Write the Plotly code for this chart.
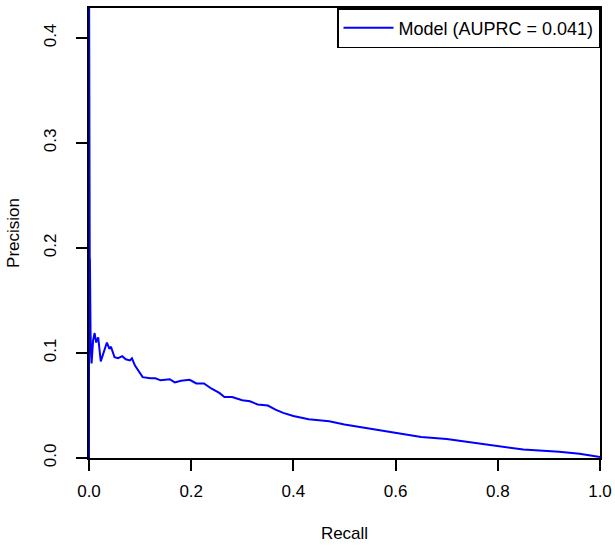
import plotly.graph_objects as go

recall = [0.0, 0.0003, 0.0008, 0.0012, 0.0015, 0.0018, 0.0022, 0.003, 0.004, 0.005,
          0.008, 0.011, 0.014, 0.018, 0.023, 0.028, 0.035, 0.040, 0.043, 0.050,
          0.057, 0.065, 0.072, 0.080, 0.084, 0.090, 0.100, 0.105, 0.120, 0.130,
          0.140, 0.158, 0.168, 0.180, 0.197, 0.210, 0.225, 0.240, 0.255, 0.265,
          0.280, 0.300, 0.315, 0.330, 0.350, 0.365, 0.380, 0.400, 0.430, 0.470,
          0.500, 0.550, 0.600, 0.650, 0.700, 0.760, 0.800, 0.850, 0.920, 0.960, 1.0]
precision = [0.0, 0.4286, 0.30, 0.20, 0.17, 0.19, 0.14, 0.12, 0.10, 0.09,
             0.112, 0.119, 0.110, 0.115, 0.092, 0.100, 0.110, 0.104, 0.106, 0.096,
             0.095, 0.097, 0.094, 0.093, 0.095, 0.088, 0.080, 0.077, 0.076, 0.076,
             0.074, 0.075, 0.072, 0.0735, 0.0745, 0.071, 0.071, 0.066, 0.062, 0.058,
             0.058, 0.055, 0.054, 0.051, 0.050, 0.046, 0.043, 0.040, 0.037, 0.035,
             0.032, 0.028, 0.024, 0.020, 0.018, 0.014, 0.011, 0.008, 0.006, 0.004, 0.001]
series_name = "Model (AUPRC = 0.041)"
x_ticks = [0.0, 0.2, 0.4, 0.6, 0.8, 1.0]
y_ticks = [0.0, 0.1, 0.2, 0.3, 0.4]

FONT = "Liberation Sans, Arial, sans-serif"

fig = go.Figure()
fig.add_trace(go.Scatter(x=recall, y=precision, mode="lines", name=series_name,
                         line=dict(color="#0000FF", width=2), cliponaxis=False))

axis_common = dict(showline=True, linecolor="black", linewidth=2, mirror=True,
                   ticks="outside", ticklen=11, tickwidth=2, tickcolor="black",
                   showgrid=False, zeroline=False, layer="below traces",
                   automargin=False,
                   tickfont=dict(family=FONT, size=17, color="black"))

fig.update_layout(
    width=615, height=548,
    margin=dict(l=89, r=15, t=8, b=90),
    paper_bgcolor="white", plot_bgcolor="white",
    font=dict(family=FONT, size=17, color="black"),
    showlegend=True,
    legend=dict(x=1, y=1, xanchor="right", yanchor="top",
                bordercolor="black", borderwidth=1.5, bgcolor="white",
                font=dict(family=FONT, size=18, color="black"),
                itemwidth=50, entrywidth=214, entrywidthmode="pixels"),
    xaxis=dict(range=[0, 1], tickvals=x_ticks, tickformat=".1f",
               ticklabelstandoff=6,
               title=dict(text="Recall", font=dict(size=17), standoff=27), **axis_common),
    yaxis=dict(range=[0, 0.4286], tickvals=y_ticks, tickformat=".1f", tickangle=-90,
               ticklabelstandoff=13,
               title=dict(text="Precision", font=dict(size=17), standoff=17), **axis_common),
)

fig.write_html("out.html")
